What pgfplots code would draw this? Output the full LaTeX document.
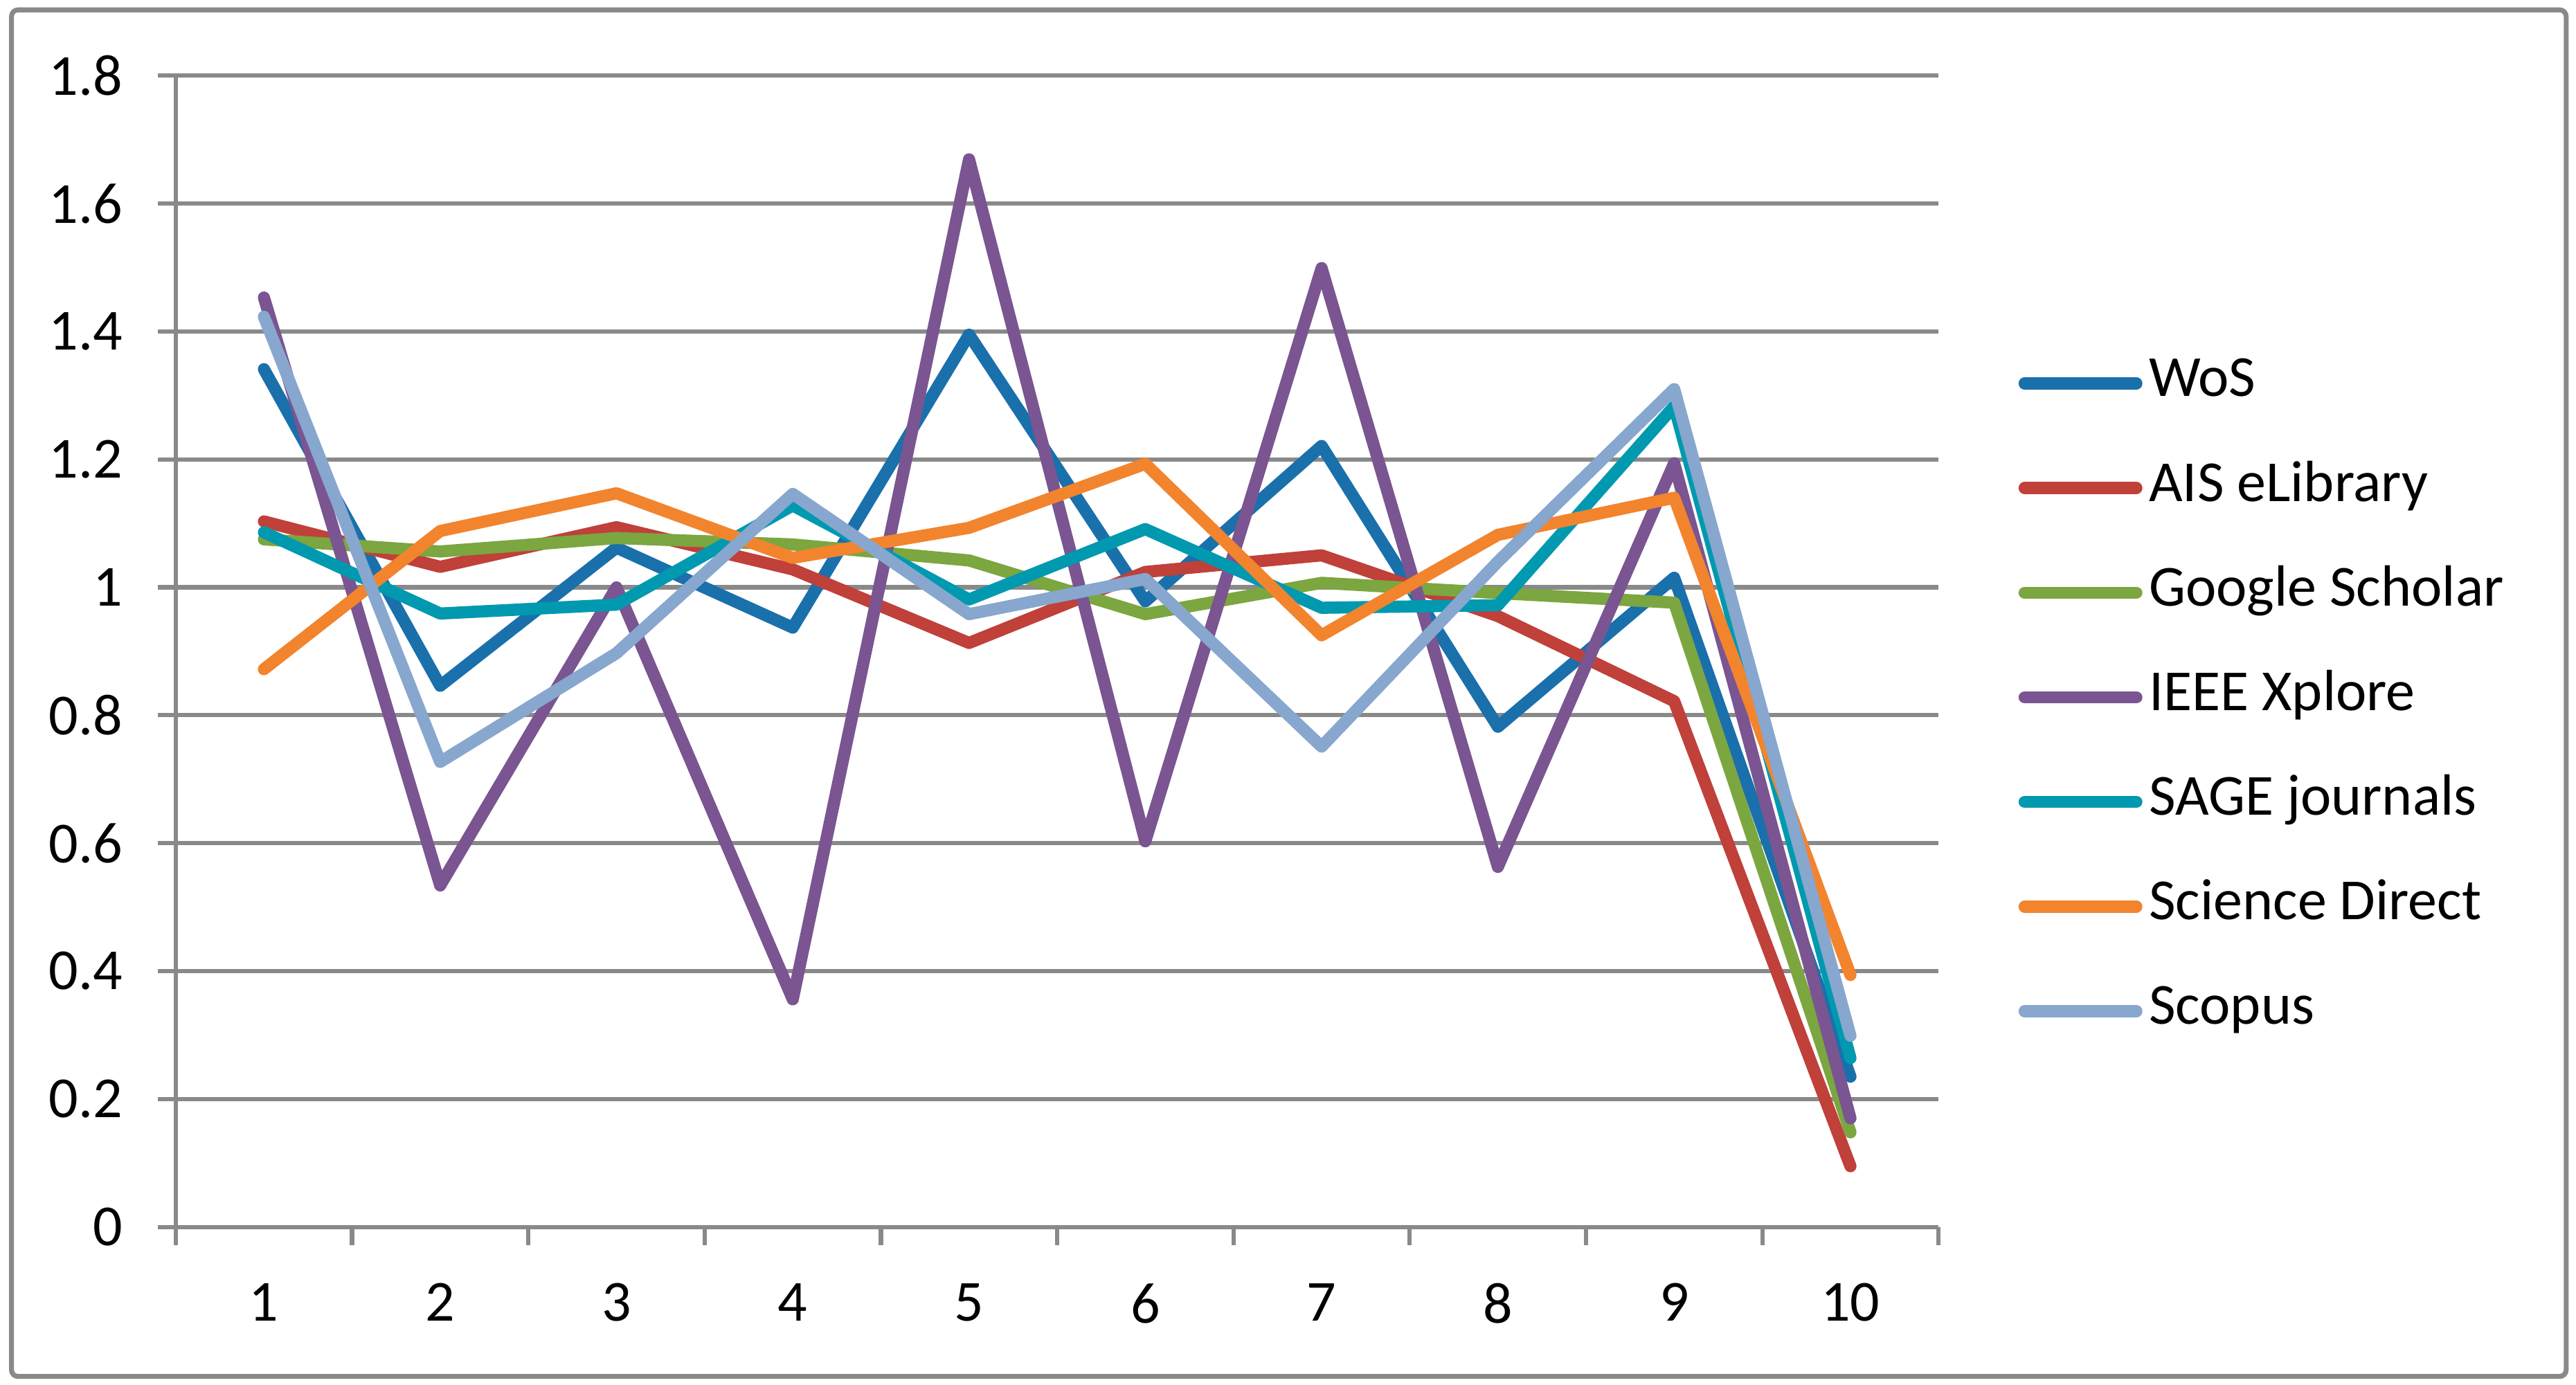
\documentclass[border=0pt]{standalone}
\usepackage{fontspec}
\setmainfont{Carlito}
\usepackage{pgfplots}
\pgfplotsset{compat=1.18}
\usepackage{pgfplotstable}
\definecolor{gridgray}{HTML}{898989}
\definecolor{cwos}{HTML}{1A70AB}
\definecolor{cais}{HTML}{C0403A}
\definecolor{cgoo}{HTML}{7BA640}
\definecolor{cieee}{HTML}{7A5591}
\definecolor{csage}{HTML}{0099B0}
\definecolor{csd}{HTML}{F2842E}
\definecolor{cscop}{HTML}{87A7CE}
\pgfplotstableread{
x wos ais goo ieee sage sd scop
1 1.341 1.103 1.075 1.453 1.086 0.872 1.423
2 0.846 1.032 1.056 0.534 0.959 1.088 0.727
3 1.062 1.094 1.077 1.000 0.973 1.147 0.897
4 0.937 1.028 1.067 0.356 1.128 1.046 1.146
5 1.395 0.913 1.042 1.669 0.981 1.093 0.958
6 0.978 1.024 0.958 0.603 1.091 1.193 1.013
7 1.221 1.050 1.007 1.499 0.968 0.925 0.751
8 0.782 0.955 0.991 0.563 0.972 1.082 1.040
9 1.015 0.822 0.976 1.194 1.283 1.140 1.310
10 0.235 0.095 0.148 0.170 0.264 0.394 0.299
}\data
\newcommand{\lblfont}{\fontsize{17.7pt}{21pt}\selectfont}
\begin{document}
\begin{tikzpicture}
\useasboundingbox (-53.5pt,-48pt) rectangle (730.5pt,373.5pt);
\begin{axis}[
  at={(0,0)}, anchor=south west,
  scale only axis, width=536.5pt, height=350.5pt,
  xmin=0.5, xmax=10.5, ymin=0, ymax=1.8,
  xtick={1,2,3,4,5,6,7,8,9,10},
  minor xtick={0.5,1.5,2.5,3.5,4.5,5.5,6.5,7.5,8.5,9.5,10.5},
  ytick={0,0.2,0.4,0.6,0.8,1,1.2,1.4,1.6,1.8},
  axis x line*=bottom, axis y line*=left,
  axis line style={draw=gridgray, line width=1.3pt, -},
  ymajorgrids, grid style={draw=gridgray, line width=1.3pt},
  tick align=outside, major tick length=5.5pt, minor tick length=5.5pt,
  tick style={draw=gridgray, line width=1.3pt},
  major x tick style={draw=none},
  tick label style={font=\lblfont},
  /pgf/number format/assume math mode=true,
  yticklabel style={anchor=east, inner sep=0pt, xshift=-10.5pt},
  xticklabel style={anchor=north, inner sep=0pt, yshift=-11.5pt},
  legend cell align=left,
  legend style={at={(1.045,0.756)}, anchor=north west, draw=none, fill=none,
    font=\lblfont, row sep=15.85pt, inner sep=0pt,
    nodes={inner xsep=2pt, inner ysep=0pt, text height=12pt, text depth=4pt}},
  legend image code/.code={\draw[#1, line cap=round] (0pt,0pt) -- (34pt,0pt);},
  every axis plot/.append style={line width=3.7pt, line cap=round, line join=round},
]
\addplot[cwos] table[x=x, y=wos] {\data};
\addlegendentry{WoS}
\addplot[cais] table[x=x, y=ais] {\data};
\addlegendentry{AIS eLibrary}
\addplot[cgoo] table[x=x, y=goo] {\data};
\addlegendentry{Google Scholar}
\addplot[cieee] table[x=x, y=ieee] {\data};
\addlegendentry{IEEE Xplore}
\addplot[csage] table[x=x, y=sage] {\data};
\addlegendentry{SAGE journals}
\addplot[csd] table[x=x, y=sd] {\data};
\addlegendentry{Science Direct}
\addplot[cscop] table[x=x, y=scop] {\data};
\addlegendentry{Scopus}
\end{axis}
\draw[gridgray, line width=1.5pt, rounded corners=2pt] (-50pt,-45.5pt) rectangle (727.5pt,370.5pt);
\end{tikzpicture}
\end{document}
